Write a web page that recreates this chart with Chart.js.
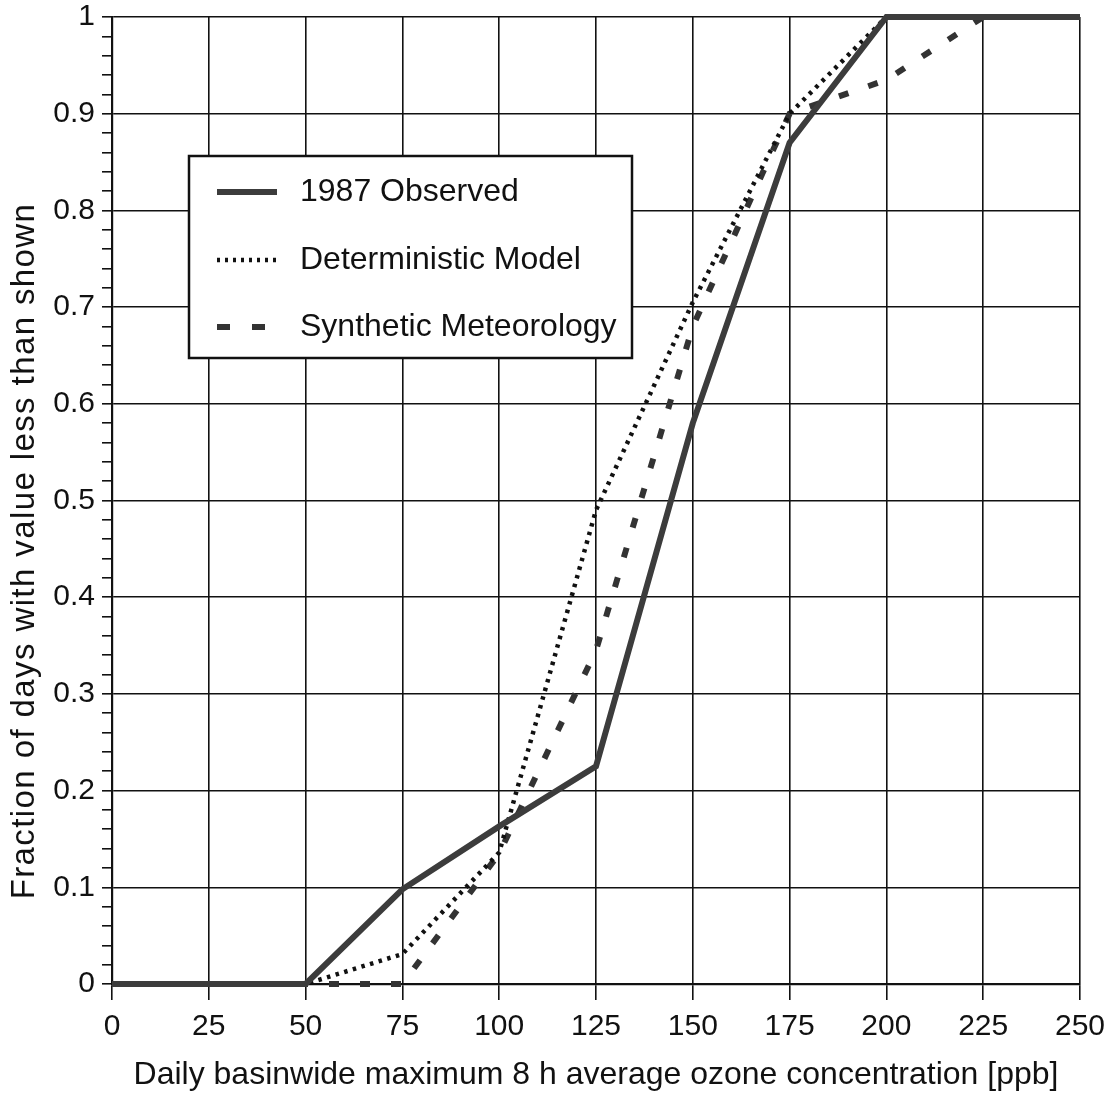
<!DOCTYPE html>
<html>
<head>
<meta charset="utf-8">
<title>Ozone distribution</title>
<script src="https://cdn.jsdelivr.net/npm/chart.js@4.4.1/dist/chart.umd.min.js"></script>
<style>
    html, body { margin: 0; padding: 0; background: #fff; }
    #wrap { width: 1114px; height: 1095px; }
</style>
</head>
<body>
<div id="wrap"><canvas id="ozoneChart" width="1114" height="1095"></canvas></div>
<script>
// daily basinwide max 8 h average ozone [ppb]
const ozoneLevels = [0, 25, 50, 75, 100, 125, 150, 175, 200, 225, 250];

// cumulative fraction of days below each level
const observed1987  = [0, 0, 0, 0.098, 0.163, 0.225, 0.58, 0.87, 1, 1, 1];
const deterministic = [0, 0, 0, 0.031, 0.136, 0.49, 0.705, 0.9, 1, 1, 1];
const synthetic     = [0, 0, 0, 0, 0.135, 0.345, 0.68, 0.9, 0.935, 1, 1];

const seriesNames = ['1987 Observed', 'Deterministic Model', 'Synthetic Meteorology'];
const yTitle = 'Fraction of days with value less than shown';
const xTitle = 'Daily basinwide maximum 8 h average ozone concentration [ppb]';

const FONT = '"Liberation Sans", Arial, Helvetica, sans-serif';

function toPoints(values) {
    return ozoneLevels.map((x, i) => ({ x: x, y: values[i] }));
}

function isMajor(v) {
    return Math.abs(v * 10 - Math.round(v * 10)) < 1e-6;
}

// legend box inside the plot (upper left) plus the rotated y title
const boxLegend = {
    id: 'boxLegend',
    afterDatasetsDraw(chart) {
        const ctx = chart.ctx;
        const left = 189, top = 156, w = 443, h = 202;
        ctx.save();
        ctx.fillStyle = '#fff';
        ctx.fillRect(left, top, w, h);
        ctx.lineWidth = 2.5;
        ctx.strokeStyle = '#111';
        ctx.strokeRect(left, top, w, h);

        const rows = [192, 260, 327];
        chart.data.datasets.forEach((ds, i) => {
            const y = rows[i];
            ctx.beginPath();
            ctx.strokeStyle = ds.borderColor;
            ctx.lineWidth = ds.borderWidth;
            ctx.setLineDash(ds.legendDash || ds.borderDash || []);
            ctx.moveTo(217, y);
            ctx.lineTo(277, y);
            ctx.stroke();
            ctx.setLineDash([]);
            ctx.fillStyle = '#111';
            ctx.font = '32px ' + FONT;
            ctx.textBaseline = 'middle';
            ctx.fillText(ds.label, 300, y);
        });
        ctx.restore();
    },
    afterDraw(chart) {
        const ctx = chart.ctx;
        ctx.save();
        ctx.translate(25, 551);
        ctx.rotate(-Math.PI / 2);
        ctx.font = '33px ' + FONT;
        ctx.letterSpacing = '1.4px';
        ctx.fillStyle = '#111';
        ctx.textAlign = 'center';
        ctx.textBaseline = 'middle';
        ctx.fillText(yTitle, 0, 0);
        ctx.restore();
    }
};

const ctx = document.getElementById('ozoneChart').getContext('2d');
const chart = new Chart(ctx, {
    type: 'line',
    data: {
        datasets: [
            {
                label: seriesNames[0],
                data: toPoints(observed1987),
                borderColor: '#3c3c3c',
                borderWidth: 6,
                order: 1
            },
            {
                label: seriesNames[1],
                data: toPoints(deterministic),
                borderColor: '#111',
                borderWidth: 4.5,
                borderDash: [3.5, 5.5],
                legendDash: [3, 5],
                order: 2
            },
            {
                label: seriesNames[2],
                data: toPoints(synthetic),
                borderColor: '#333',
                borderWidth: 6,
                borderDash: [10, 21],
                legendDash: [13, 22],
                order: 3
            }
        ]
    },
    options: {
        responsive: false,
        animation: false,
        layout: { padding: { top: 17, right: 34, left: 0, bottom: 0 } },
        elements: {
            point: { radius: 0 },
            line: { tension: 0, fill: false, borderCapStyle: 'butt', borderJoinStyle: 'miter' }
        },
        datasets: { line: { clip: false } },
        plugins: {
            legend: { display: false },
            tooltip: { enabled: false }
        },
        scales: {
            x: {
                type: 'linear',
                min: 0,
                max: 250,
                afterFit: (scale) => {
                    scale.height = 111;
                    scale.paddingLeft = 0;
                    scale.paddingRight = 0;
                },
                ticks: {
                    stepSize: 25,
                    color: '#111',
                    padding: 9,
                    maxRotation: 0,
                    font: { family: FONT, size: 30 }
                },
                grid: {
                    color: '#111',
                    lineWidth: 1.6,
                    tickLength: 16,
                    tickColor: '#111'
                },
                border: { color: '#111', width: 2.2 },
                title: {
                    display: true,
                    text: xTitle,
                    color: '#111',
                    font: { family: FONT, size: 32 },
                    padding: { top: 0, bottom: 1 }
                }
            },
            y: {
                type: 'linear',
                min: 0,
                max: 1,
                afterFit: (scale) => {
                    scale.width = 112;
                    scale.paddingTop = 0;
                    scale.paddingBottom = 0;
                },
                ticks: {
                    stepSize: 0.02,
                    color: '#111',
                    padding: 7,
                    autoSkip: false,
                    font: { family: FONT, size: 30 },
                    callback: (v) => isMajor(v) ? String(Math.round(v * 10) / 10) : ''
                },
                grid: {
                    color: (c) => isMajor(c.tick.value) ? '#111' : 'rgba(0,0,0,0)',
                    lineWidth: 1.6,
                    tickLength: 10,
                    tickColor: '#111'
                },
                border: { color: '#111', width: 2.2 }
            }
        }
    },
    plugins: [boxLegend]
});
</script>
</body>
</html>
